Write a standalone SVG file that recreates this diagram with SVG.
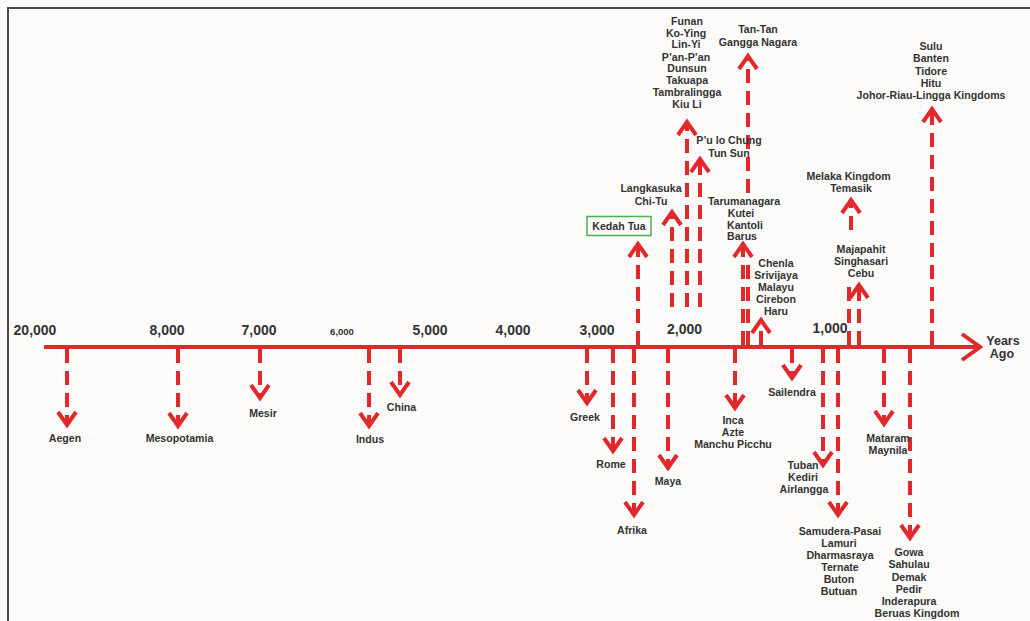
<svg xmlns="http://www.w3.org/2000/svg" xmlns:xlink="http://www.w3.org/1999/xlink" width="1030" height="621" viewBox="0 0 1030 621">
<style>
.bg{fill:#fcfbfa}
.frame{stroke:#4a4a4a;stroke-width:2;fill:none}
.axis{stroke:#e1292b;stroke-width:4;fill:none}
.dash{stroke:#e1292b;stroke-width:4;stroke-dasharray:14 8;fill:none}
.head{stroke:#e1292b;stroke-width:4;fill:none;stroke-linejoin:miter;stroke-linecap:butt}
.lbl{font-family:"Liberation Sans",Arial,sans-serif;font-weight:bold;font-size:10.6px;fill:#333;text-anchor:middle}
.num{font-family:"Liberation Sans",Arial,sans-serif;font-weight:bold;font-size:14px;fill:#333;text-anchor:middle}
.small{font-size:9.5px}
.ya{font-family:"Liberation Sans",Arial,sans-serif;font-weight:bold;font-size:12.5px;fill:#333;text-anchor:middle}
.box{fill:none;stroke:#4caf50;stroke-width:1.5}
</style>
<defs>
<path id="dn" class="head" d="M-9,-13 L0,0 L9,-13"/>
<path id="up" class="head" d="M-9,13 L0,0 L9,13"/>
</defs>
<rect class="bg" x="0" y="0" width="1030" height="621"/>
<path class="frame" d="M8,621 L8,8 L1030,8"/>

<g id="connectors">
<path class="axis" d="M44,347 L979,347"/>
<path class="head" d="M962,334 L980,347 L962,360"/>
<!-- down arrows -->
<path class="dash" d="M67,349 V423"/><use xlink:href="#dn" x="67" y="425"/>
<path class="dash" d="M178,349 V424"/><use xlink:href="#dn" x="178" y="426"/>
<path class="dash" d="M260,349 V396"/><use xlink:href="#dn" x="260" y="398"/>
<path class="dash" d="M369,349 V424"/><use xlink:href="#dn" x="369" y="426"/>
<path class="dash" d="M400,349 V393"/><use xlink:href="#dn" x="400" y="395"/>
<path class="dash" d="M587,349 V401"/><use xlink:href="#dn" x="587" y="403"/>
<path class="dash" d="M613,349 V449"/><use xlink:href="#dn" x="613" y="451"/>
<path class="dash" d="M634,349 V513"/><use xlink:href="#dn" x="634" y="515"/>
<path class="dash" d="M668,349 V466"/><use xlink:href="#dn" x="668" y="468"/>
<path class="dash" d="M735,349 V406"/><use xlink:href="#dn" x="735" y="408"/>
<path class="dash" d="M792,349 V376"/><use xlink:href="#dn" x="792" y="378"/>
<path class="dash" d="M823,349 V463"/><use xlink:href="#dn" x="823" y="465"/>
<path class="dash" d="M838,349 V513"/><use xlink:href="#dn" x="838" y="515"/>
<path class="dash" d="M884,349 V422"/><use xlink:href="#dn" x="884" y="424"/>
<path class="dash" d="M910,349 V536"/><use xlink:href="#dn" x="910" y="538"/>
<!-- up arrows -->
<path class="dash" d="M638,345 V246"/><use xlink:href="#up" x="638" y="244"/>
<path class="dash" d="M672,307 V214"/><use xlink:href="#up" x="672" y="212"/>
<path class="dash" d="M687,307 V124"/><use xlink:href="#up" x="687" y="122"/>
<path class="dash" d="M700,307 V161"/><use xlink:href="#up" x="700" y="159"/>
<path class="dash" d="M748,345 V257"/>
<path class="dash" d="M748,193 V58"/><use xlink:href="#up" x="748" y="56"/>
<path class="dash" d="M743,345 V246"/><use xlink:href="#up" x="743" y="244"/>
<path class="dash" d="M761,345 V322"/><use xlink:href="#up" x="761" y="320"/>
<path class="dash" d="M849,345 V283"/>
<path class="dash" d="M851,230 V202"/><use xlink:href="#up" x="851" y="200"/>
<path class="dash" d="M859,345 V287"/><use xlink:href="#up" x="859" y="285"/>
<path class="dash" d="M932,345 V111"/><use xlink:href="#up" x="932" y="109"/>
</g>

<g id="axis-labels">
<text class="num" x="35" y="335">20,000</text>
<text class="num" x="167" y="335">8,000</text>
<text class="num" x="259" y="335">7,000</text>
<text class="num small" x="342" y="334.5">6,000</text>
<text class="num" x="430" y="335">5,000</text>
<text class="num" x="513" y="335">4,000</text>
<text class="num" x="597" y="335">3,000</text>
<text class="num" x="684.5" y="334">2,000</text>
<text class="num" x="830" y="333">1,000</text>
<text class="ya" x="1003" y="345">Years</text>
<text class="ya" x="1002" y="358">Ago</text>
</g>

<g id="aegen"><text class="lbl" x="65" y="442">Aegen</text></g>
<g id="mesopotamia"><text class="lbl" x="179.5" y="442">Mesopotamia</text></g>
<g id="mesir"><text class="lbl" x="263" y="417">Mesir</text></g>
<g id="indus"><text class="lbl" x="370" y="443">Indus</text></g>
<g id="china"><text class="lbl" x="401.5" y="411">China</text></g>
<g id="greek"><text class="lbl" x="585" y="421">Greek</text></g>
<g id="rome"><text class="lbl" x="611" y="468">Rome</text></g>
<g id="afrika"><text class="lbl" x="632" y="534">Afrika</text></g>
<g id="maya"><text class="lbl" x="668" y="485">Maya</text></g>
<g id="inca"><text class="lbl"><tspan x="733" y="424">Inca</tspan><tspan x="733" y="436">Azte</tspan><tspan x="733" y="448">Manchu Picchu</tspan></text></g>
<g id="sailendra"><text class="lbl" x="792" y="396">Sailendra</text></g>
<g id="tuban"><text class="lbl"><tspan x="803" y="469">Tuban</tspan><tspan x="803" y="481">Kediri</tspan><tspan x="804" y="493">Airlangga</tspan></text></g>
<g id="samudera"><text class="lbl"><tspan x="840" y="535">Samudera-Pasai</tspan><tspan x="839" y="547">Lamuri</tspan><tspan x="840" y="559">Dharmasraya</tspan><tspan x="840" y="571">Ternate</tspan><tspan x="839" y="583">Buton</tspan><tspan x="839" y="595">Butuan</tspan></text></g>
<g id="mataram"><text class="lbl"><tspan x="888" y="442">Mataram</tspan><tspan x="888" y="454">Maynila</tspan></text></g>
<g id="gowa"><text class="lbl"><tspan x="909" y="556">Gowa</tspan><tspan x="909" y="568">Sahulau</tspan><tspan x="909" y="581">Demak</tspan><tspan x="909" y="593">Pedir</tspan><tspan x="909" y="605">Inderapura</tspan><tspan x="917" y="617">Beruas Kingdom</tspan></text></g>

<g id="kedah-tua"><rect class="box" x="587" y="216.5" width="64" height="19"/><text class="lbl" x="619" y="230">Kedah Tua</text></g>
<g id="langkasuka"><text class="lbl"><tspan x="651" y="192">Langkasuka</tspan><tspan x="651" y="205">Chi-Tu</tspan></text></g>
<g id="funan"><text class="lbl"><tspan x="687" y="25">Funan</tspan><tspan x="686" y="37">Ko-Ying</tspan><tspan x="686" y="48">Lin-Yi</tspan><tspan x="686" y="61">P’an-P’an</tspan><tspan x="687" y="72">Dunsun</tspan><tspan x="687" y="84">Takuapa</tspan><tspan x="687" y="96">Tambralingga</tspan><tspan x="687" y="108">Kiu Li</tspan></text></g>
<g id="tan-tan"><text class="lbl"><tspan x="758" y="33">Tan-Tan</tspan><tspan x="758" y="46">Gangga Nagara</tspan></text></g>
<g id="pu-lo-chung"><text class="lbl"><tspan x="729" y="144">P’u lo Chung</tspan><tspan x="729" y="157">Tun Sun</tspan></text></g>
<g id="tarumanagara"><text class="lbl"><tspan x="744" y="205">Tarumanagara</tspan><tspan x="741" y="217">Kutei</tspan><tspan x="745" y="229">Kantoli</tspan><tspan x="742" y="240">Barus</tspan></text></g>
<g id="chenla"><text class="lbl"><tspan x="776" y="267">Chenla</tspan><tspan x="776" y="279">Srivijaya</tspan><tspan x="776" y="291">Malayu</tspan><tspan x="776" y="303">Cirebon</tspan><tspan x="776" y="315">Haru</tspan></text></g>
<g id="melaka"><text class="lbl"><tspan x="848.5" y="180">Melaka Kingdom</tspan><tspan x="851" y="192">Temasik</tspan></text></g>
<g id="majapahit"><text class="lbl"><tspan x="861" y="253">Majapahit</tspan><tspan x="861" y="265">Singhasari</tspan><tspan x="861" y="277">Cebu</tspan></text></g>
<g id="sulu"><text class="lbl"><tspan x="931" y="50">Sulu</tspan><tspan x="931" y="62">Banten</tspan><tspan x="931" y="75">Tidore</tspan><tspan x="931" y="87">Hitu</tspan><tspan x="931" y="99">Johor-Riau-Lingga Kingdoms</tspan></text></g>
</svg>
